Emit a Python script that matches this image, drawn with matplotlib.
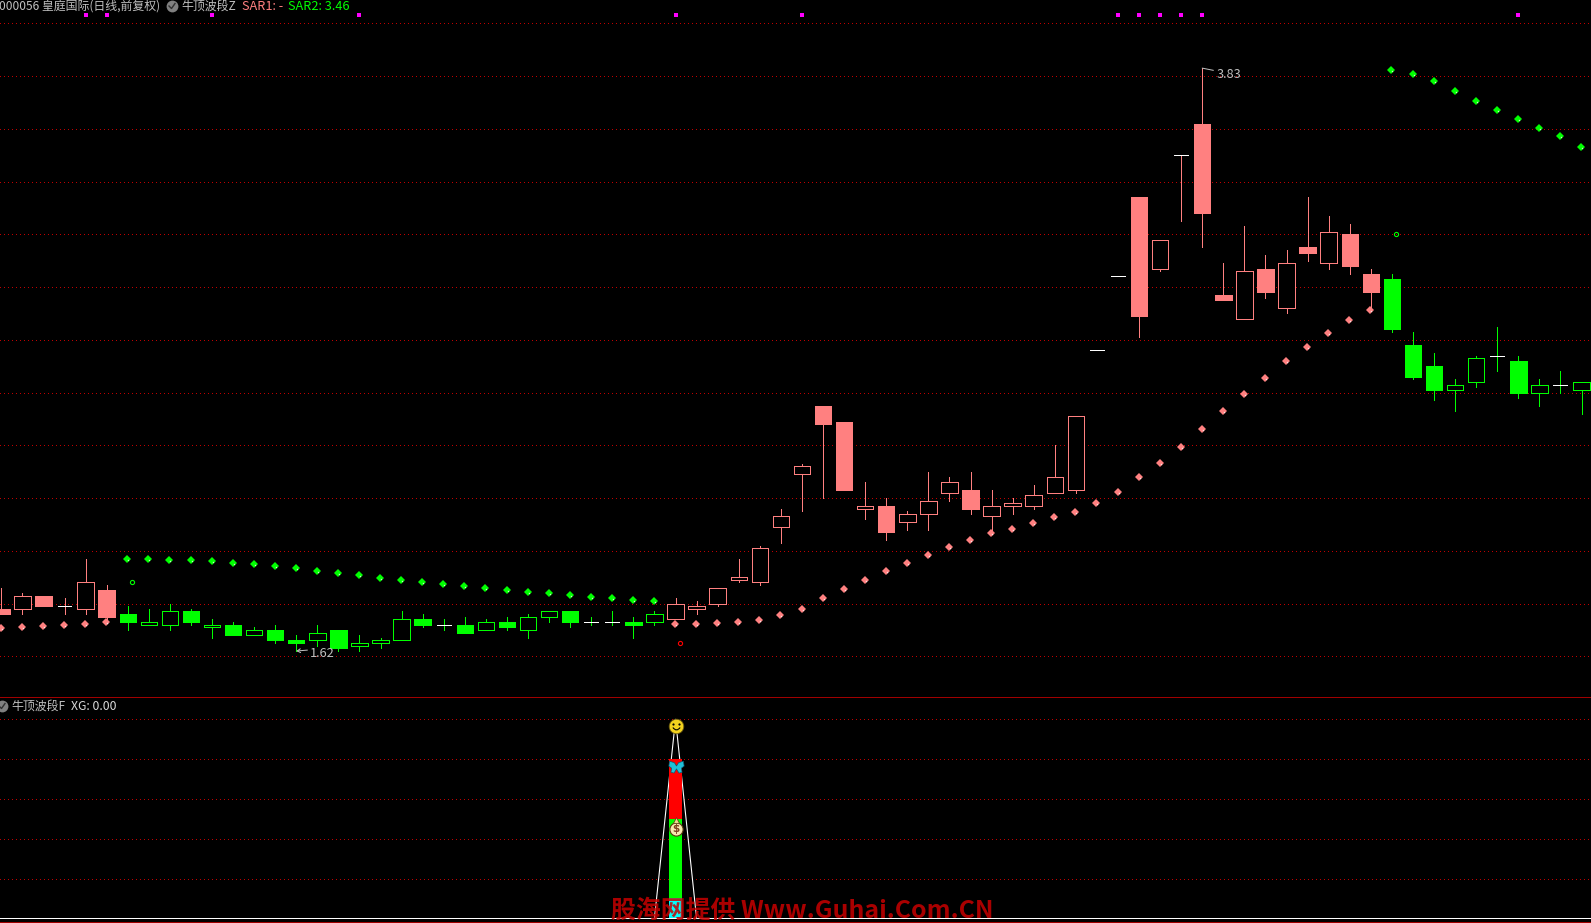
import numpy as np
import matplotlib
matplotlib.use('Agg')
import matplotlib.pyplot as plt
import matplotlib.transforms as mtrans
from matplotlib.lines import Line2D
from matplotlib.path import Path

plt.rcParams['font.family'] = ['Noto Sans CJK SC', 'DejaVu Sans']

# daily prices
open_p = [1.78,1.78,1.83,1.79,1.78,1.85,1.76,1.72,1.72,1.77,1.71,1.72,1.68,1.70,1.66,1.66,1.70,1.64,1.65,1.66,
          1.74,1.72,1.72,1.70,1.73,1.70,1.75,1.77,1.73,1.73,1.73,1.73,1.74,1.78,1.80,1.89,1.88,2.09,2.29,2.55,
          2.49,2.16,2.17,2.11,2.14,2.22,2.23,2.13,2.17,2.17,2.22,2.23,2.76,3.04,3.34,3.07,3.50,3.62,2.97,2.88,
          3.07,2.92,3.15,3.09,3.20,3.05,3.03,2.78,2.70,2.61,2.64,2.74,2.72,2.60,2.63,2.61]
close_p = [1.76,1.83,1.79,1.79,1.88,1.75,1.73,1.73,1.77,1.73,1.72,1.68,1.70,1.66,1.65,1.69,1.63,1.65,1.66,1.74,
           1.72,1.72,1.69,1.73,1.71,1.75,1.77,1.73,1.73,1.73,1.72,1.76,1.80,1.79,1.86,1.90,2.01,2.13,2.32,2.48,
           2.23,2.17,2.07,2.14,2.19,2.26,2.16,2.17,2.18,2.21,2.28,2.51,2.76,3.04,2.89,3.18,3.50,3.28,2.95,3.06,
           2.98,3.09,3.13,3.21,3.08,2.98,2.84,2.66,2.61,2.63,2.73,2.74,2.60,2.63,2.63,2.64]
high_p = [1.86,1.84,1.83,1.82,1.97,1.87,1.79,1.78,1.80,1.78,1.74,1.73,1.71,1.72,1.68,1.72,1.70,1.68,1.67,1.77,
          1.76,1.74,1.75,1.74,1.75,1.76,1.77,1.77,1.75,1.77,1.75,1.77,1.82,1.81,1.86,1.97,2.02,2.16,2.33,2.55,
          2.49,2.26,2.20,2.15,2.30,2.28,2.30,2.23,2.20,2.25,2.40,2.51,2.76,3.04,3.34,3.18,3.50,3.83,3.09,3.23,
          3.12,3.14,3.34,3.27,3.24,3.07,3.05,2.83,2.75,2.65,2.74,2.85,2.74,2.65,2.68,2.64]
low_p = [1.76,1.76,1.79,1.76,1.76,1.73,1.70,1.72,1.70,1.72,1.67,1.68,1.68,1.65,1.62,1.64,1.62,1.62,1.63,1.66,
         1.71,1.70,1.69,1.70,1.70,1.67,1.73,1.71,1.72,1.72,1.67,1.72,1.74,1.76,1.79,1.88,1.87,2.03,2.15,2.20,
         2.23,2.12,2.04,2.08,2.08,2.19,2.14,2.08,2.14,2.16,2.22,2.22,2.76,3.04,2.81,3.06,3.25,3.15,2.95,2.88,
         2.96,2.90,3.10,3.07,3.05,2.92,2.83,2.65,2.57,2.53,2.62,2.68,2.58,2.55,2.60,2.52]

nan = float('nan')
# SAR1 runs under the price (rising), SAR2 above it (falling)
sar1 = [1.709,1.712,1.716,1.720,1.724,1.731] + [nan]*26 + [
        1.722,1.722,1.726,1.730,1.738,1.757,1.779,1.822,1.855,1.889,1.923,1.954,1.984,2.014,2.041,2.067,2.083,
        2.105,2.128,2.147,2.181,2.223,2.280,2.334,2.392,2.461,2.530,2.596,2.657,2.719,2.774,2.826,2.875,2.913] + [nan]*10
sar2 = [nan]*6 + [1.969,1.969,1.965,1.965,1.961,1.954,1.950,1.942,1.935,1.923,1.916,1.908,1.897,1.889,1.882,
        1.874,1.867,1.859,1.851,1.844,1.840,1.832,1.825,1.821,1.814,1.810] + [nan]*34 + [
        3.823,3.808,3.781,3.743,3.705,3.671,3.637,3.603,3.573,3.531]

flip_idx = [6, 32, 66]
flip_val = [1.88, 1.65, 3.20]
flip_col = ['#00ff00', '#ff0000', '#00ff00']
signal_idx = [4, 5, 10, 17, 32, 38, 53, 54, 55, 56, 57, 72]
signal_val = 4.03

xg_idx = [31, 32, 33]
xg_val = [0, 1, 0]
bar_idx = 32
bar_cyan = [0, 0.1]
bar_green = [0.1, 0.5]
bar_red = [0.5, 0.8]
main_grid = [1.6, 1.8, 2.0, 2.2, 2.4, 2.6, 2.8, 3.0, 3.2, 3.4, 3.6, 3.8, 4.0]
low_grid = [0.2, 0.4, 0.6, 0.8, 1.0]

W, H = 1591, 923
PINK = '#ff8080'
GREEN = '#00ff00'
GRID = '#c00000'
GREY = '#c0c0c0'
PX = 0.72  # one pixel in points at dpi 100

fig = plt.figure(figsize=(W/100, H/100), dpi=100, facecolor='black')
ax = fig.add_axes([0, 1-697.3/H, 1, 697.3/H], facecolor='black')
ax2 = fig.add_axes([0, 0, 1, (H-697.3)/H], facecolor='black')
for a in (ax, ax2):
    a.set_axis_off()
    a.set_xlim(-0.0617, 75.45)
ax.set_ylim(1.4445, 4.0883)
ax2.set_ylim(-0.0236, 1.1106)

for g in main_grid:
    ax.axhline(g, color=GRID, lw=PX, ls=(0, (1, 3)), antialiased=False, zorder=1)
for g in low_grid:
    ax2.axhline(g, color=GRID, lw=PX, ls=(0, (1, 3)), antialiased=False, zorder=1)

# candles
n = len(open_p)
for i in range(n):
    col = PINK if not np.isnan(sar1[i]) else GREEN
    o, c = open_p[i], close_p[i]
    ax.vlines(i, low_p[i], high_p[i], color=col, lw=PX, antialiased=False, zorder=2)
    if o == c:
        ax.hlines(o, i-0.33, i+0.33, color='white', lw=PX, antialiased=False, zorder=3)
    else:
        ax.bar(i, abs(c-o), bottom=min(o, c), width=0.78, facecolor=col if c < o else 'black',
               edgecolor=col, lw=PX, antialiased=False, zorder=3)

# SAR dots
x = np.arange(n) - 0.02
for vals, col, hl in ((sar1, PINK, '#ffe0e0'), (sar2, GREEN, '#c0ffc0')):
    ax.plot(x, vals, 'D', color=col, ms=3.9, mew=0, zorder=4)
    shift = mtrans.offset_copy(ax.transData, fig, x=1, y=-1, units='dots')
    ax.plot(x, vals, 's', color=hl, ms=1.0, mew=0, transform=shift, zorder=5)

shift = mtrans.offset_copy(ax.transData, fig, x=4, y=0, units='dots')
for i, v, col in zip(flip_idx, flip_val, flip_col):
    ax.plot(i, v, 'o', mfc='none', mec=col, ms=3, mew=0.8, transform=shift, zorder=4)

ax.plot(signal_idx, [signal_val]*len(signal_idx), 's', color='#ff00ff', ms=2.8, mew=0, zorder=4)

# high / low labels
ax.annotate('1.62', xy=(14, 1.62), xytext=(10, -2), textcoords='offset points', color=GREY,
            fontsize=9.2, va='center', ha='left',
            arrowprops=dict(arrowstyle='->,head_length=0.25,head_width=0.15', color=GREY, lw=PX,
                            shrinkA=0, shrinkB=0, relpos=(0, 0.8)))
ax.annotate('3.83', xy=(57, 3.83), xytext=(10, -4.8), textcoords='offset points', color=GREY,
            fontsize=9.2, va='center', ha='left',
            arrowprops=dict(arrowstyle='-', color=GREY, lw=PX, shrinkA=0, shrinkB=0, relpos=(0, 0.8)))

# lower panel
ax2.axhline(0, color='white', lw=PX, antialiased=False, zorder=2)
ax2.axhline(-0.0186, color='#a00000', lw=PX, antialiased=False, zorder=2)
ax2.plot(xg_idx, xg_val, color='white', lw=PX*1.1, zorder=3)
for rng, col in ((bar_cyan, '#00ffff'), (bar_green, GREEN), (bar_red, '#ff0000')):
    ax2.bar(bar_idx, rng[1]-rng[0], bottom=rng[0], width=0.62, color=col, lw=0, zorder=4)


def at(dx, dy):
    return mtrans.offset_copy(ax2.transData, fig, x=dx, y=dy, units='dots')


# smiley
ax2.plot(bar_idx, 0.965, 'o', color='#f2d21e', mec='#6a5a10', mew=0.6, ms=10.5, zorder=6)
for dx in (-3, 3):
    ax2.plot(bar_idx, 0.965, 'o', color='black', ms=1.6, mew=0, transform=at(dx, 2), zorder=7)
ax2.plot(bar_idx, 0.965, marker=Path([(-0.6, 0), (0, -0.8), (0.6, 0)], [1, 3, 3]), mfc='none', mec='black',
         mew=0.8, ms=7, transform=at(0, -1), zorder=7)

# butterfly
wing = Path([(0, 0.2), (-0.3, 0.7), (-1, 0.9), (-1.1, 0.2), (-0.7, -0.1), (-0.8, -0.7), (-0.35, -0.8), (0, -0.2),
             (0.35, -0.8), (0.8, -0.7), (0.7, -0.1), (1.1, 0.2), (1, 0.9), (0.3, 0.7), (0, 0.2)])
ax2.plot(bar_idx, 0.76, marker=wing, color='#20c0d8', mec='#0a5a70', mew=0.5, ms=11, zorder=6)

# money bag
ax2.plot(bar_idx, 0.45, 'o', color='#f8e8b0', mec='#5a3a10', mew=0.8, ms=9.5, zorder=6)
ax2.plot(bar_idx, 0.495, '^', color='#f0d890', mec='#5a3a10', mew=0.5, ms=4.5, zorder=6)
ax2.text(bar_idx, 0.447, '$', color='#804020', fontsize=7.5, ha='center', va='center', fontweight='bold',
         family='DejaVu Sans', zorder=7)


def label(px, py, s, color=GREY, size=8.6):
    fig.text(px/W, 1-py/H, s, color=color, fontsize=size, ha='left', va='center')


def check_icon(px, py, r):
    fig.add_artist(Line2D([px/W], [1-py/H], marker='o', ms=r, color='#808080', mew=0, transform=fig.transFigure))
    fig.add_artist(Line2D([(px-3)/W, (px-0.5)/W, (px+3)/W], [1-py/H, 1-(py+2.5)/H, 1-(py-2.5)/H],
                          color='#303030', lw=1, transform=fig.transFigure))


label(-1, 6, '000056 皇庭国际(日线,前复权)')
check_icon(172, 6, 8.5)
label(181.5, 6, '牛顶波段Z')
label(242.5, 6, 'SAR1: -', PINK, 9.2)
label(288, 6, 'SAR2: 3.46', '#00ff00', 9.2)
check_icon(2, 706, 8.5)
label(11, 706, '牛顶波段F')
label(71, 706, 'XG: 0.00', '#d8d8d8', 8.8)

fig.add_artist(Line2D([0, 1], [1-697.3/H]*2, color='#a00000', lw=PX, antialiased=False, transform=fig.transFigure))

# site watermark
fig.text(802/W, 1-911/H, '股海网提供 Www.Guhai.Com.CN', color='#c80000', alpha=0.85, fontsize=17.9,
         fontweight='bold', ha='center', va='center', zorder=10)

fig.savefig('out.png', dpi=100, facecolor='black')
